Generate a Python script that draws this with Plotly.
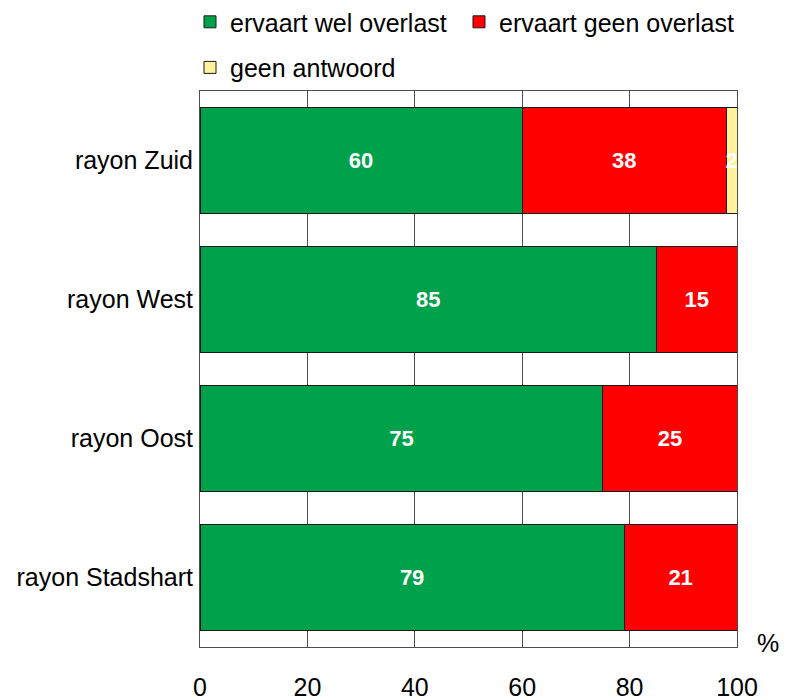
import plotly.graph_objects as go

categories = ["rayon Zuid", "rayon West", "rayon Oost", "rayon Stadshart"]
wel_overlast = [60, 85, 75, 79]
geen_overlast = [38, 15, 25, 21]
geen_antwoord = [2, 0, 0, 0]
series_names = ["ervaart wel overlast", "ervaart geen overlast", "geen antwoord"]
series_colors = ["#00A14B", "#FF0000", "#FFF29A"]
tick_vals = [0, 20, 40, 60, 80, 100]

FONT = "Liberation Sans, Arial, sans-serif"

fig = go.Figure()
for vals, name, color, lg in zip([wel_overlast, geen_overlast, geen_antwoord],
                                 series_names, series_colors,
                                 ["legend", "legend2", "legend3"]):
    fig.add_trace(go.Bar(
        y=categories, x=vals, name=name, orientation="h",
        marker=dict(color=color, line=dict(color="#1a1a1a", width=1)),
        text=[str(v) if v > 0 else "" for v in vals],
        textposition="inside", insidetextanchor="middle",
        constraintext="none", textangle=0, cliponaxis=True,
        textfont=dict(color="white", size=22, family=FONT, weight="bold"),
        legend=lg, hoverinfo="skip",
    ))

legend_common = dict(orientation="h", font=dict(size=25, family=FONT, color="black"),
                     bgcolor="rgba(0,0,0,0)", borderwidth=0, yanchor="middle",
                     xanchor="left")

# page body adds an 8px offset, so the figure is 8px smaller
fig.update_layout(
    barmode="stack",
    bargap=0.237,
    width=786, height=692,
    margin=dict(l=192, r=57, t=83, b=53, autoexpand=False),
    paper_bgcolor="white", plot_bgcolor="white",
    font=dict(family=FONT, size=25, color="black"),
    showlegend=True,
    legend=dict(x=-0.0186, y=1.124, **legend_common),
    legend2=dict(x=0.4823, y=1.124, **legend_common),
    legend3=dict(x=-0.0186, y=1.042, **legend_common),
    xaxis=dict(range=[0, 100], tickvals=tick_vals, ticktext=[str(t) for t in tick_vals],
               showgrid=True, gridcolor="#4d4d4d", gridwidth=1,
               showline=True, linecolor="#4d4d4d", linewidth=1, mirror=True,
               zeroline=False, ticks="", ticklabelstandoff=18,
               tickfont=dict(size=25, family=FONT, color="black"), automargin=False),
    yaxis=dict(categoryorder="array", categoryarray=categories, autorange="reversed",
               showline=True, linecolor="#4d4d4d", linewidth=1, mirror=True,
               ticks="", ticklabelstandoff=1, showgrid=False,
               tickfont=dict(size=25, family=FONT, color="black"), automargin=False),
    annotations=[dict(text="%", xref="paper", yref="paper", x=1.0577, y=0.007,
                      showarrow=False, font=dict(size=25, family=FONT, color="black"),
                      xanchor="center", yanchor="middle")],
)

fig.write_html("out.html")
